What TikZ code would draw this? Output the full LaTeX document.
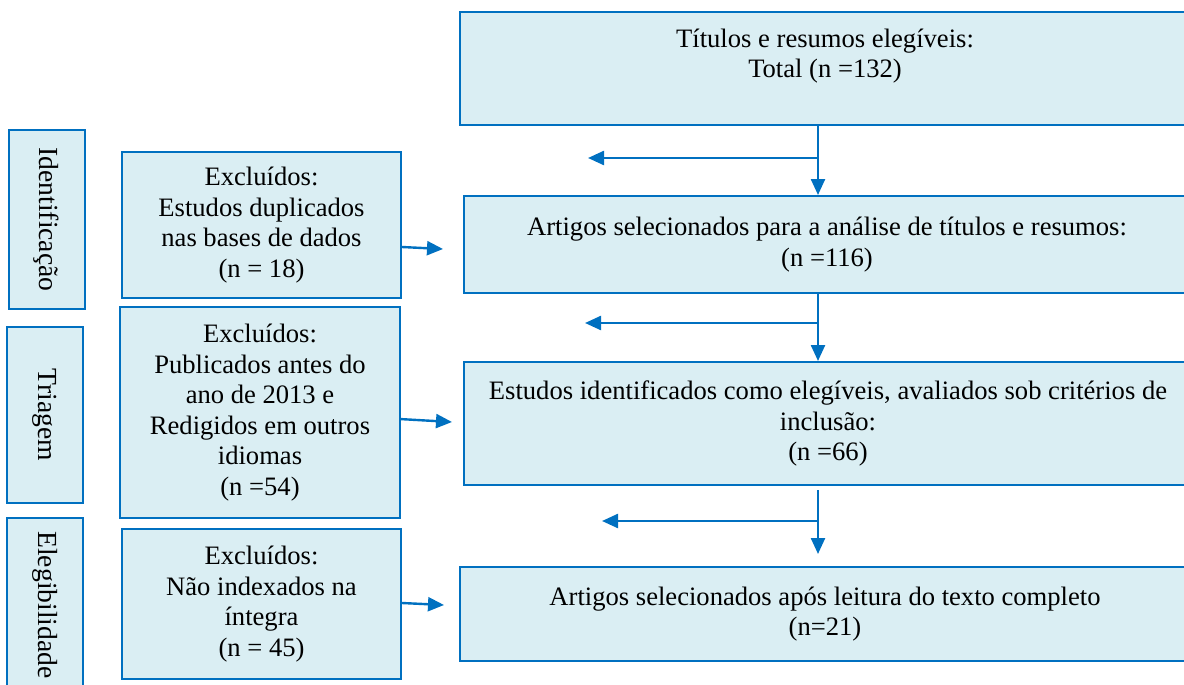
\documentclass[tikz,border=0pt]{standalone}
\usepackage{fontspec}
\setmainfont{Liberation Serif}
\usetikzlibrary{arrows.meta}
\definecolor{boxblue}{HTML}{0070C0}
\definecolor{boxfill}{HTML}{DAEEF3}
\tikzset{
  caixa/.style={draw=boxblue,fill=boxfill,line width=1pt,align=center,inner sep=2pt,
    font=\fontsize{13.3}{15.3}\selectfont},
  fase/.style={caixa,rotate=-90,minimum height=38pt,font=\fontsize{13.8}{15.3}\selectfont},
  seta/.style={draw=boxblue,line width=1.2pt,-{Triangle[length=8pt,width=7pt]}}
}
\begin{document}
\begin{tikzpicture}[x=0.5pt,y=-0.5pt]
\useasboundingbox (0,0) rectangle (1184,685);
% fases
\node[fase,minimum width=89.5pt] (ident) at (46.5,219.5) {Identificação};
\node[fase,minimum width=88pt] (triag) at (45,415) {Triagem};
\node[fase,minimum width=87pt] (elegib) at (45,605) {Elegibilidade};
% excluidos
\node[caixa,minimum width=139.5pt,minimum height=73pt] (excl1) at (261.5,225)
  {Excluídos:\\Estudos duplicados\\nas bases de dados\\(n = 18)};
\node[caixa,minimum width=140pt,minimum height=105.5pt] (excl2) at (260,412.5)
  {Excluídos:\\Publicados antes do\\ano de 2013 e\\Redigidos em outros\\idiomas\\(n =54)};
\node[caixa,minimum width=139.5pt,minimum height=75pt] (excl3) at (261.5,604)
  {Excluídos:\\Não indexados na\\íntegra\\(n = 45)};
% fluxo principal
\node[caixa,minimum width=365pt,minimum height=56.5pt] (total) at (825,68.5)
  {Títulos e resumos elegíveis:\\Total (n =132)\\\mbox{}};
\node[caixa,minimum width=363pt,minimum height=48.5pt] (sel) at (827,244.5)
  {Artigos selecionados para a análise de títulos e resumos:\\(n =116)};
\node[caixa,minimum width=364pt,minimum height=61.5pt] (elig) at (828,423.5)
  {Estudos identificados como elegíveis, avaliados sob critérios de\\inclusão:\\(n =66)};
\node[caixa,minimum width=365pt,minimum height=47pt] (final) at (825,614)
  {Artigos selecionados após leitura do texto completo\\(n=21)};
% setas
\coordinate (r1) at (818,158);
\coordinate (e1) at (588,158);
\coordinate (r2) at (818,323);
\coordinate (e2) at (585,323);
\coordinate (r3) at (818,521);
\coordinate (e3) at (602,521);
\draw[seta] (total.south -| r1) -- (sel.north -| r1);
\draw[seta] (r1) -- (e1);
\draw[seta] (sel.south -| r2) -- (elig.north -| r2);
\draw[seta] (r2) -- (e2);
\draw[seta,shorten <=2pt,shorten >=6pt] (elig.south -| r3) -- (final.north -| r3);
\draw[seta] (r3) -- (e3);
\coordinate (l1) at (443,249);
\coordinate (l2) at (452,422);
\coordinate (l3) at (444,605);
\draw[seta] ([yshift=-11pt]excl1.east) -- (l1);
\draw[seta] ([yshift=-3.3pt]excl2.east) -- (l2);
\draw[seta] ([yshift=0.5pt]excl3.east) -- (l3);
\end{tikzpicture}
\end{document}
